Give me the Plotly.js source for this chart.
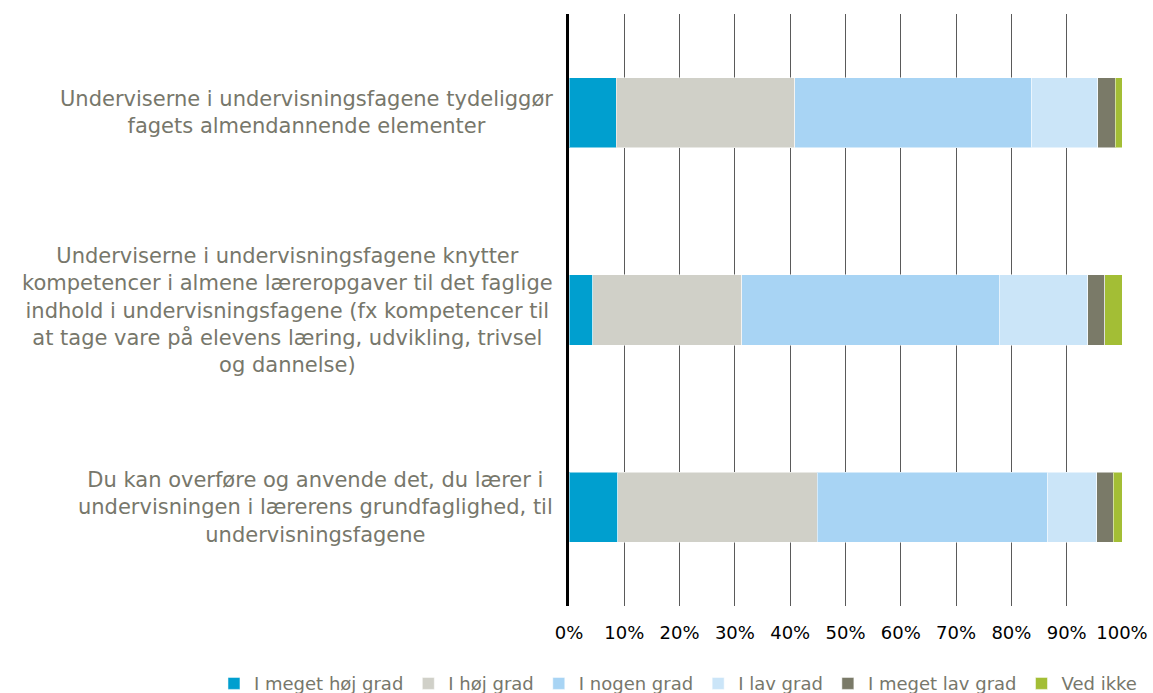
<!DOCTYPE html>
<html>
<head>
<meta charset="utf-8">
<script src="https://cdn.plot.ly/plotly-3.0.1.min.js"></script>
<style>html,body{margin:0;padding:0;background:#fff;}#chart{width:1153px;height:693px;}</style>
</head>
<body>
<div id="chart"></div>
<script>
const categories = [
  "Underviserne i undervisningsfagene tydeliggør<br>fagets almendannende elementer",
  "Underviserne i undervisningsfagene knytter<br>kompetencer i almene læreropgaver til det faglige<br>indhold i undervisningsfagene (fx kompetencer til<br>at tage vare på elevens læring, udvikling, trivsel<br>og dannelse)",
  "Du kan overføre og anvende det, du lærer i<br>undervisningen i lærerens grundfaglighed, til<br>undervisningsfagene"
];
const seriesNames = ["I meget høj grad", "I høj grad", "I nogen grad", "I lav grad", "I meget lav grad", "Ved ikke"];
const meget_hoej = [8.5, 4.3, 8.8];
const hoej = [32.3, 26.9, 36.1];
const nogen = [42.9, 46.6, 41.7];
const lav = [11.9, 16.0, 8.8];
const meget_lav = [3.2, 3.1, 3.0];
const ved_ikke = [1.2, 3.1, 1.6];
const tickVals = [0, 10, 20, 30, 40, 50, 60, 70, 80, 90, 100];

const colors = ["#009FCF", "#D0D0C8", "#A8D4F4", "#CBE5F8", "#7A7A68", "#A3BE35"];
const allValues = [meget_hoej, hoej, nogen, lav, meget_lav, ved_ikke];
const catKeys = categories.map((c, i) => "c" + i);

const traces = allValues.map((vals, k) => ({
  type: "bar",
  orientation: "h",
  name: seriesNames[k],
  x: vals,
  y: catKeys,
  marker: {color: colors[k], line: {color: "rgba(255,255,255,0.5)", width: 1}},
  hoverinfo: "x+name"
}));

const annotations = categories.map((c, i) => ({
  xref: "paper", yref: "y",
  x: 0, y: catKeys[i],
  xshift: -14,
  xanchor: "right", yanchor: "middle",
  align: "center",
  text: c,
  showarrow: false,
  font: {family: "DejaVu Sans, Verdana, sans-serif", size: 21, color: "#77776B"}
}));

const layout = {
  width: 1153, height: 693,
  margin: {l: 569, r: 31, t: 14, b: 87, autoexpand: false},
  paper_bgcolor: "#ffffff",
  plot_bgcolor: "#ffffff",
  barmode: "stack",
  bargap: 0.645,
  showlegend: true,
  legend: {
    orientation: "h",
    x: -0.642, xanchor: "left",
    y: -0.1, yanchor: "top",
    traceorder: "normal",
    font: {family: "DejaVu Sans, Verdana, sans-serif", size: 18, color: "#77776B"},
    bgcolor: "rgba(0,0,0,0)"
  },
  xaxis: {
    range: [0, 100],
    tickvals: tickVals,
    ticktext: tickVals.map(v => v + "%"),
    showgrid: true,
    gridcolor: "#5a5a5a",
    gridwidth: 1,
    zeroline: false,
    showline: false,
    ticks: "",
    ticklabelstandoff: 14,
    tickfont: {family: "DejaVu Sans, Verdana, sans-serif", size: 18, color: "#000000"},
    fixedrange: true
  },
  yaxis: {
    type: "category",
    categoryorder: "array",
    categoryarray: catKeys,
    range: [2.5, -0.5],
    showticklabels: false,
    showgrid: false,
    zeroline: false,
    showline: true,
    linecolor: "#000000",
    linewidth: 3,
    ticks: "",
    fixedrange: true
  },
  annotations: annotations
};

Plotly.newPlot("chart", traces, layout, {displayModeBar: false, staticPlot: true});
</script>
</body>
</html>
